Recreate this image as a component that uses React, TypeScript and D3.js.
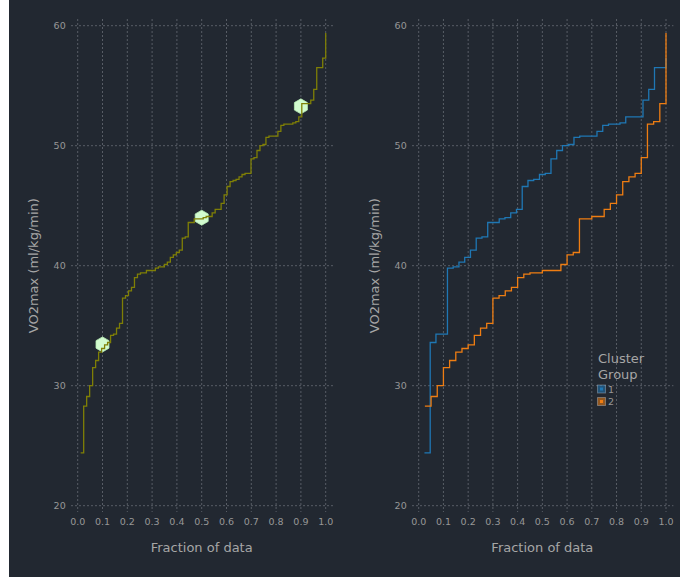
import React from "react";
import * as d3 from "d3";

// sorted VO2max values
const allVo2 = [
  24.4, 28.3, 29.1, 30.0, 31.5, 32.1, 32.8, 33.1, 33.4, 33.6,
  34.2, 34.3, 34.8, 35.2, 37.3, 37.5, 37.9, 38.2, 39.0, 39.3,
  39.4, 39.4, 39.6, 39.6, 39.6, 39.8, 39.9, 39.9, 40.1, 40.3,
  40.7, 40.9, 41.1, 41.3, 42.3, 42.4, 43.6, 43.6, 43.9, 43.9,
  43.9, 44.0, 44.1, 44.1, 44.4, 44.7, 44.7, 45.2, 45.9, 46.6,
  47.0, 47.1, 47.2, 47.4, 47.6, 47.7, 47.7, 48.9, 49.0, 49.6,
  50.0, 50.1, 50.7, 50.8, 50.8, 50.8, 51.2, 51.7, 51.8, 51.8,
  51.8, 51.9, 52.0, 52.4, 53.5, 53.5, 53.5, 53.8, 54.7, 56.5,
  56.5, 57.3, 59.4,
];

const cluster1Vo2 = [
  24.4, 33.6, 34.3, 34.3, 39.8, 39.9, 40.3, 40.7, 41.3, 42.3,
  42.4, 43.6, 43.6, 43.9, 44.0, 44.4, 44.7, 46.6, 47.1, 47.2,
  47.6, 47.7, 48.9, 49.6, 50.0, 50.1, 50.7, 50.8, 50.8, 50.8,
  51.2, 51.7, 51.8, 51.8, 51.9, 52.4, 52.4, 52.4, 53.8, 54.7,
  56.5, 56.5, 57.3,
];

const cluster2Vo2 = [
  28.3, 29.1, 30.0, 31.5, 32.1, 32.8, 33.1, 33.4, 34.2, 34.8,
  35.2, 37.3, 37.5, 37.9, 38.2, 39.0, 39.3, 39.4, 39.4, 39.6,
  39.6, 39.6, 40.1, 40.9, 41.1, 43.9, 43.9, 44.1, 44.1, 44.7,
  45.2, 45.9, 47.0, 47.4, 47.7, 49.0, 51.8, 52.0, 53.5, 59.4,
];

const quantileLevels = [0.1, 0.5, 0.9];
const clusterNames = ["1", "2"];
const clusterColors = ["#1f77b4", "#ef7d12"];
const fractionTicks = [0, 0.1, 0.2, 0.3, 0.4, 0.5, 0.6, 0.7, 0.8, 0.9, 1.0];
const vo2Ticks = [20, 30, 40, 50, 60];

const W = 680;
const H = 577;
const BG = "#222831";
const GRID = "#585d66";
const TICK = "#979797";
const LABEL = "#a6a6a6";
const FONT = "DejaVu Sans, sans-serif";

const yScale = d3.scaleLinear().domain([20, 60]).range([505.7, 25.7]);

const ecdf = (vals) => vals.map((v, i) => [(i + 1) / vals.length, v]);

const hexPath = (cx, cy, r) =>
  d3.line()(
    d3.range(6).map((i) => {
      const a = (Math.PI / 3) * i - Math.PI / 2;
      return [cx + r * Math.cos(a), cy + r * Math.sin(a)];
    })
  ) + "Z";

const Panel = ({ x0, x1, children }) => {
  const xScale = d3.scaleLinear().domain([0, 1]).range([x0, x1]);
  const gx0 = xScale(-0.027);
  const gx1 = xScale(1.03);
  const cx = (x0 + x1) / 2;
  return (
    <g>
      {vo2Ticks.map((t) => (
        <g key={"h" + t}>
          <line x1={gx0} x2={gx1} y1={yScale(t)} y2={yScale(t)} stroke={GRID} strokeWidth={1} strokeDasharray="2,2" />
          <text x={x0 - 12} y={yScale(t) + 3.5} textAnchor="end" fill={TICK} fontSize={9.5} fontFamily={FONT}>
            {t}
          </text>
        </g>
      ))}
      {fractionTicks.map((t) => (
        <g key={"v" + t}>
          <line x1={xScale(t)} x2={xScale(t)} y1={19} y2={512} stroke={GRID} strokeWidth={1} strokeDasharray="2,2" />
          <text x={xScale(t)} y={525} textAnchor="middle" fill={TICK} fontSize={9.5} fontFamily={FONT}>
            {d3.format(".1f")(t)}
          </text>
        </g>
      ))}
      <text x={cx} y={552} textAnchor="middle" fill={LABEL} fontSize={13} fontFamily={FONT}>
        Fraction of data
      </text>
      <text
        transform={`translate(${x0 - 40},${yScale(40)}) rotate(-90)`}
        textAnchor="middle"
        fill={LABEL}
        fontSize={13}
        fontFamily={FONT}
      >
        VO2max (ml/kg/min)
      </text>
      {children(xScale)}
    </g>
  );
};

export default function App() {
  const step = (xScale) =>
    d3
      .line()
      .x((d) => xScale(d[0]))
      .y((d) => yScale(d[1]))
      .curve(d3.curveStepAfter);

  const groups = [cluster1Vo2, cluster2Vo2];

  return (
    <svg width={W} height={H} style={{ position: "absolute", left: 0, top: 0, display: "block" }}>
      <rect x={9} y={0} width={W - 9} height={H} fill={BG} />

      <Panel x0={77.7} x1={325.7}>
        {(xScale) => (
          <g>
            {quantileLevels.map((q) => (
              <path
                key={q}
                d={hexPath(xScale(q), yScale(d3.quantile(allVo2, q)), 7.5)}
                fill="#d2fbcf"
                stroke="#b9efb6"
                strokeWidth={0.8}
              />
            ))}
            <path d={step(xScale)(ecdf(allVo2))} fill="none" stroke="#7f7f06" strokeWidth={1.3} />
          </g>
        )}
      </Panel>

      <Panel x0={418.7} x1={666}>
        {(xScale) => (
          <g>
            {groups.map((g, i) => (
              <path key={i} d={step(xScale)(ecdf(g))} fill="none" stroke={clusterColors[i]} strokeWidth={1.3} />
            ))}
          </g>
        )}
      </Panel>

      <g fontFamily={FONT}>
        <text x={598} y={363} fill={LABEL} fontSize={13}>Cluster</text>
        <text x={598} y={379} fill={LABEL} fontSize={13}>Group</text>
        {clusterNames.map((name, i) => (
          <g key={name} transform={`translate(597.5,${385 + i * 12.5})`}>
            <rect x={0} y={0} width={8} height={8} fill={clusterColors[i]} fillOpacity={0.55} stroke="#cfd8e0" strokeOpacity={0.35} strokeWidth={1} />
            <rect x={2.5} y={2.5} width={3} height={3} fill={clusterColors[i]} />
            <text x={10.5} y={7.8} fill={TICK} fontSize={9.5}>{name}</text>
          </g>
        ))}
      </g>
    </svg>
  );
}
